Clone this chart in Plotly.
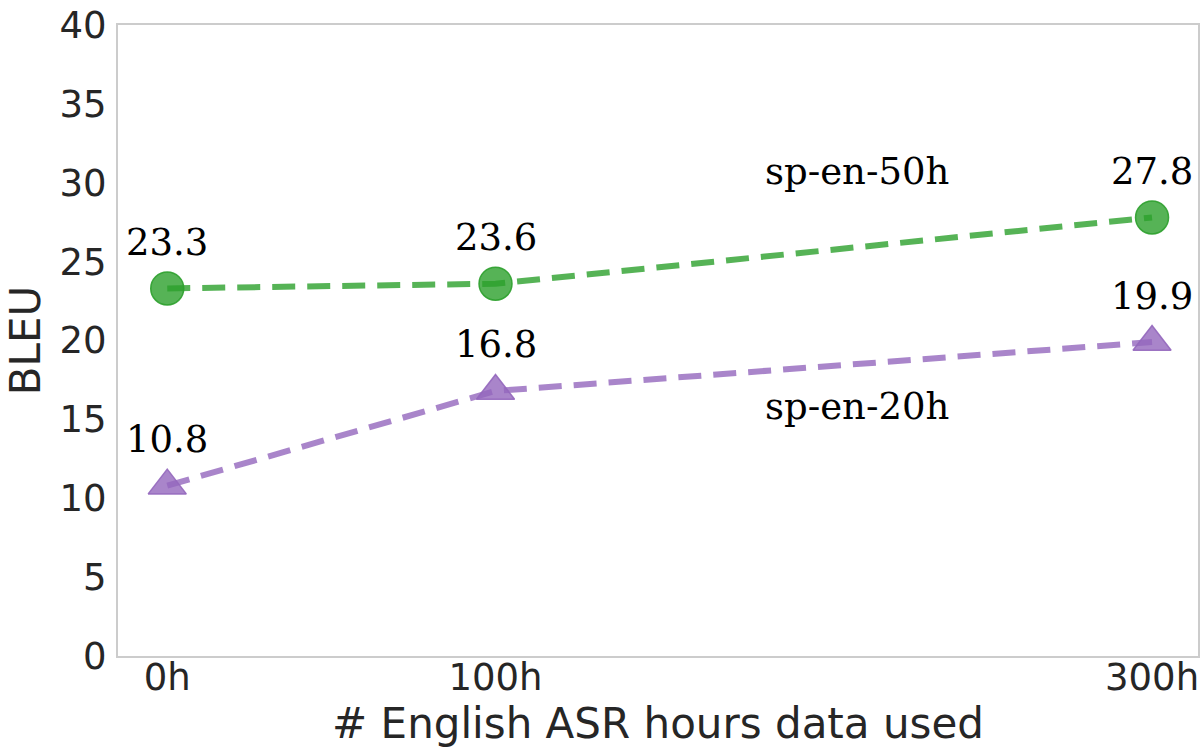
import plotly.graph_objects as go

# data
hours = [0, 100, 300]
hour_labels = ["0h", "100h", "300h"]
bleu_50h = [23.3, 23.6, 27.8]
bleu_20h = [10.8, 16.8, 19.9]
series_names = ["sp-en-50h", "sp-en-20h"]
name_pos_x = [210, 210]
name_pos_y = [30.7, 15.8]

green = "rgba(44,160,44,0.8)"
purple = "rgba(148,103,189,0.8)"

fig = go.Figure()

fig.add_trace(go.Scatter(
    x=hours, y=bleu_50h, mode="lines+markers", name=series_names[0],
    line=dict(color=green, width=6, dash="23px,12px"),
    marker=dict(symbol="circle", size=33, color=green,
                line=dict(color="rgba(44,160,44,0.9)", width=1.5)),
    cliponaxis=False,
))
fig.add_trace(go.Scatter(
    x=hours, y=bleu_20h, mode="lines+markers", name=series_names[1],
    line=dict(color=purple, width=6, dash="23px,12px"),
    marker=dict(symbol="triangle-up", size=33, color=purple,
                line=dict(color="rgba(148,103,189,0.9)", width=1.5)),
    cliponaxis=False,
))

serif = dict(family="DejaVu Serif", size=37, color="black")

# value labels above each point
for ys in (bleu_50h, bleu_20h):
    for x, y in zip(hours, ys):
        fig.add_annotation(x=x, y=y, text=f"{y:.1f}", showarrow=False,
                           yshift=46, font=serif)

# series names
for name, x, y in zip(series_names, name_pos_x, name_pos_y):
    fig.add_annotation(x=x, y=y, text=name, showarrow=False, font=serif)

axis_common = dict(
    showgrid=False, zeroline=False, showline=True, linecolor="#cccccc",
    linewidth=2, mirror=True, ticks="", automargin=False,
    tickfont=dict(family="DejaVu Sans", size=37, color="#262626"),
    title_font=dict(family="DejaVu Sans", size=42, color="#262626"),
)

fig.update_xaxes(
    range=[-15, 314], tickvals=hours, ticktext=hour_labels,
    title_text="# English ASR hours data used", title_standoff=2,
    ticklabelstandoff=-12,
    **axis_common,
)
fig.update_yaxes(
    range=[0, 40], tickvals=list(range(0, 41, 5)),
    title_text="BLEU", title_standoff=6,
    ticklabelstandoff=2,
    **axis_common,
)

fig.update_layout(
    width=1204, height=753,
    margin=dict(l=118, r=6, t=25, b=97),
    paper_bgcolor="white", plot_bgcolor="white",
    showlegend=False,
)

# drop the default page margin so the figure fills the window
fig.write_html("out.html", config={"displayModeBar": False},
               post_script="document.body.style.margin='0';")
